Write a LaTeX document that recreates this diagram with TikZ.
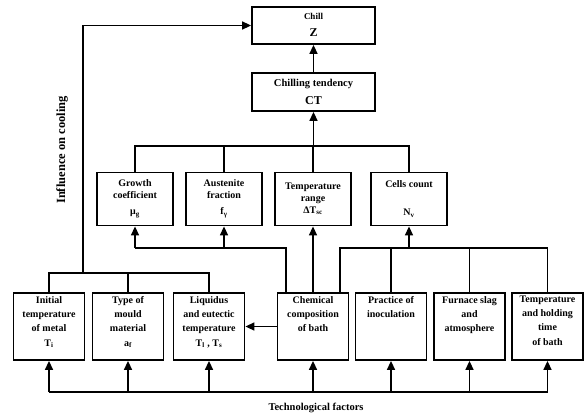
\documentclass[tikz,border=0pt]{standalone}
\usepackage{fontspec}
\setmainfont{Liberation Serif}
\usetikzlibrary{arrows.meta}
\begin{document}
\begin{tikzpicture}[x=1pt,y=-1pt,
  box/.style={draw,line width=1.8pt,inner sep=0pt,align=center},
  topbox/.style={box,minimum width=123pt,minimum height=37pt},
  midbox/.style={box,minimum width=76pt,minimum height=53pt,font=\bfseries\fontsize{10}{12}\selectfont},
  botbox/.style={box,minimum width=71pt,minimum height=67pt},
  btext/.style={anchor=north,inner sep=0pt,align=center,yshift=-4pt,font=\bfseries\fontsize{10}{14}\selectfont},
  ln/.style={line width=1.5pt},
  arr/.style={line width=1.5pt,-{Triangle[length=9pt,width=8pt]}},
  lbl/.style={font=\bfseries\fontsize{10.5}{12}\selectfont,inner sep=0pt}
]
\useasboundingbox (0,0) rectangle (586,418);
% top
\node[topbox] (chill) at (313.5,25.5) {};
\node[lbl,font=\bfseries\fontsize{9}{10}\selectfont] (chillt) at (313.5,16.5) {Chill};
\node[lbl,font=\bfseries\fontsize{12}{12}\selectfont] (chillz) at (313.5,33) {Z};
\node[topbox,minimum height=38pt] (ct) at (313.5,92) {};
\node[lbl] (ctt) at (313.5,84) {Chilling tendency};
\node[lbl,font=\bfseries\fontsize{12}{12}\selectfont] (ctz) at (313.5,101) {CT};
% middle
\node[midbox] (growth) at (135,199) {Growth\\coefficient\\[4pt]μ\textsubscript{g}};
\node[midbox] (aus) at (224,199) {Austenite\\fraction\\[4pt]f\textsubscript{γ}};
\node[midbox] (temp) at (313,199) {Temperature\\range\\ΔT\textsubscript{sc}};
\node[midbox] (cells) at (409,199) {Cells count\\[16pt]N\textsubscript{v}};
% bottom
\node[botbox] (init) at (49,326.5) {};
\node[botbox] (type) at (128,326.5) {};
\node[botbox] (liq) at (209,326.5) {};
\node[botbox] (chem) at (313,326.5) {};
\node[botbox] (prac) at (391,326.5) {};
\node[botbox] (furn) at (469.5,326.5) {};
\node[botbox] (th) at (547.5,326.5) {};
\node[btext] (initt) at (init.north) {Initial\\temperature\\of metal\\[1pt]T\textsubscript{i}};
\node[btext] (typet) at (type.north) {Type of\\mould\\material\\[1pt]a\textsubscript{f}};
\node[btext] (liqt) at (liq.north) {Liquidus\\and eutectic\\temperature\\[1pt]T\textsubscript{l} , T\textsubscript{s}};
\node[btext] (chemt) at (chem.north) {Chemical\\composition\\of bath};
\node[btext] (pract) at (prac.north) {Practice of\\inoculation};
\node[btext] (furnt) at (furn.north) {Furnace slag\\and\\atmosphere};
\node[btext] (tht) at (th.north) {Temperature\\and holding\\time\\[1pt]of bath};
% labels
\node[lbl,rotate=90,font=\bfseries\fontsize{12.5}{14}\selectfont] (infl) at (62,150) {Influence on cooling};
\node[lbl,font=\bfseries\fontsize{10.5}{12}\selectfont] (tech) at (316,408) {Technological factors};
% connectors
\coordinate (lb) at (83,273);
\coordinate (bb) at (0,392);
\coordinate (gb) at (0,248);
\coordinate (tb) at (0,146);
\coordinate (c1) at ([xshift=-27pt]chem.north);
\coordinate (c3) at ([xshift=27pt]chem.north);
% left bus to chill
\draw[ln] (init.north) |- (liq.north |- lb) -- (liq.north);
\draw[ln] (type.north) -- (type.north |- lb);
\draw[arr] (lb) |- (chill.west);
% bottom bus
\draw[ln] (init.south |- bb) -- (th.south |- bb);
\foreach \n in {init,type,liq,chem,prac,furn,th}
  \draw[arr] (\n.south |- bb) -- (\n.south);
\draw[arr] (chem.west) -- (liq.east);
% chemical to middle
\draw[ln] (c1) |- (growth.south |- gb);
\draw[arr] (growth.south |- gb) -- (growth.south);
\draw[arr] (aus.south |- gb) -- (aus.south);
\draw[arr] (chem.north) -- (temp.south);
\draw[ln] (c3) |- (th.north |- gb) -- (th.north);
\draw[ln] (prac.north |- gb) -- (prac.north);
\draw[ln] (furn.north |- gb) -- (furn.north);
\draw[arr] (cells.south |- gb) -- (cells.south);
% middle to CT
\draw[ln] (growth.north) |- (cells.north |- tb) -- (cells.north);
\draw[ln] (aus.north) -- (aus.north |- tb);
\draw[ln] (temp.north) -- (temp.north |- tb);
\draw[arr] (ct.south |- tb) -- (ct.south);
\draw[arr] (ct.north) -- (chill.south);
\end{tikzpicture}
\end{document}
